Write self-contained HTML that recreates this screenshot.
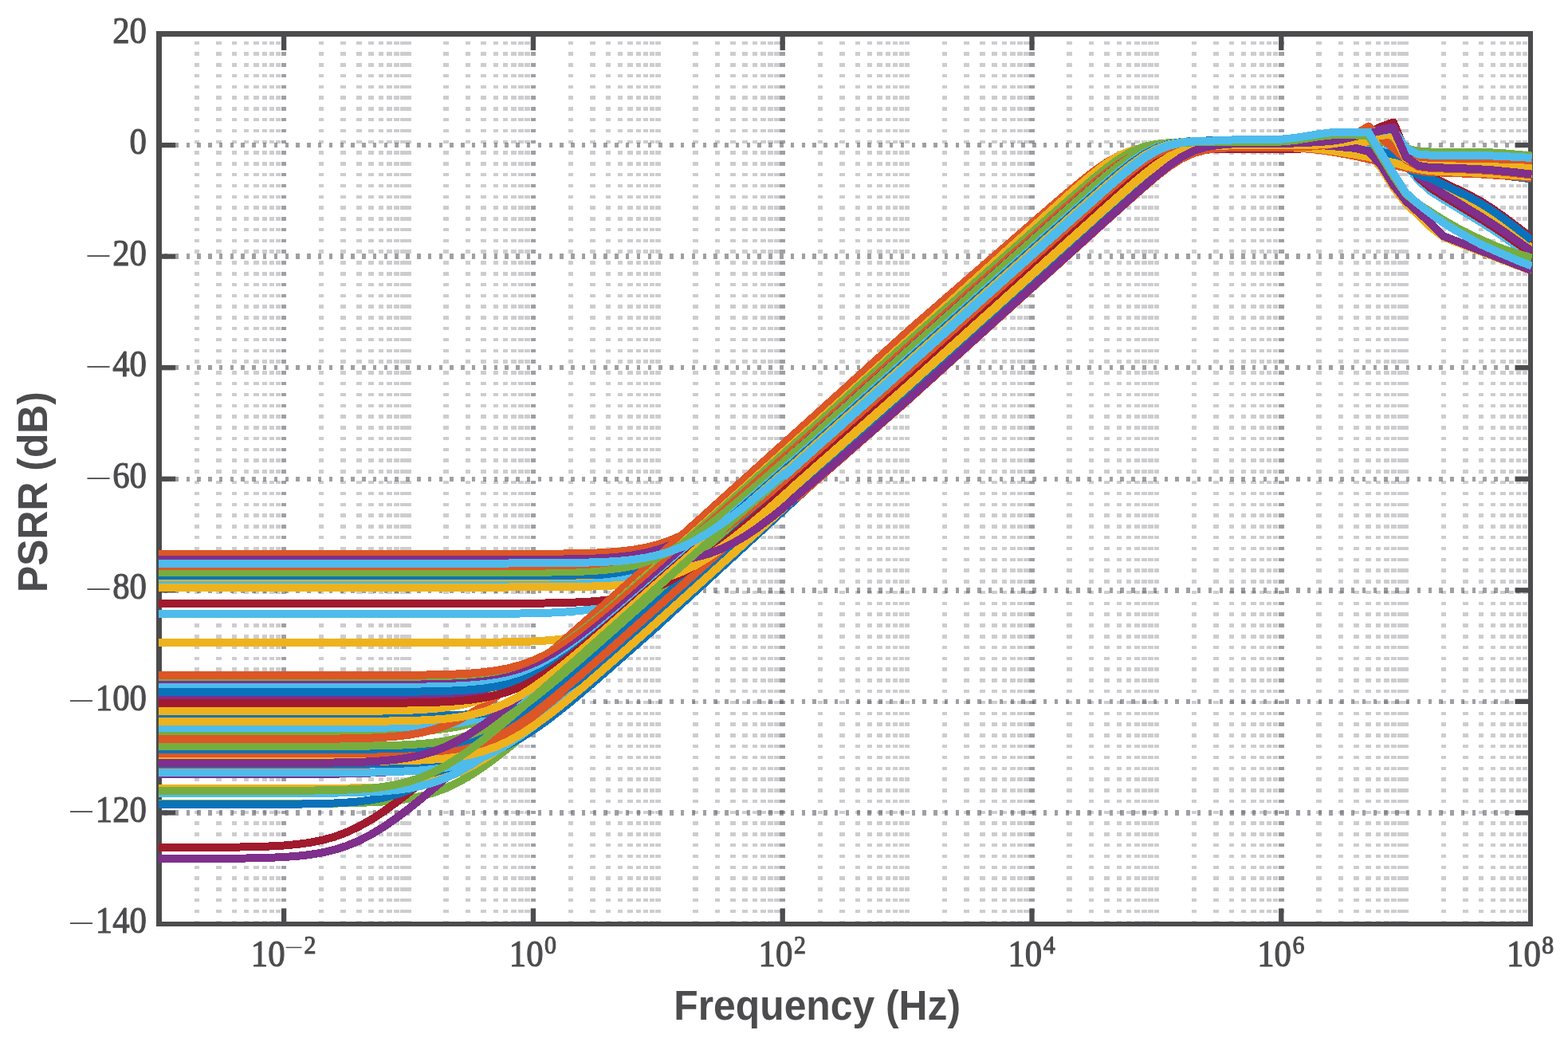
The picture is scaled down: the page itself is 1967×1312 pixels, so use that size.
<!DOCTYPE html>
<html lang="en"><head><meta charset="utf-8"><title>PSRR (dB) vs Frequency (Hz)</title>
<style>html,body{margin:0;padding:0;background:#fff;overflow:hidden}svg{display:block}text{white-space:pre}</style></head>
<body>
<svg width="1967" height="1312" viewBox="0 0 1967 1312">
<rect width="1967" height="1312" fill="#fff"/>
<defs><clipPath id="ax"><rect x="199" y="42.5" width="1723" height="1116.5"/></clipPath></defs>
<path d="M246.78 1159.0V42.5M274.32 1159.0V42.5M293.86 1159.0V42.5M309.02 1159.0V42.5M321.40 1159.0V42.5M331.87 1159.0V42.5M340.94 1159.0V42.5M348.94 1159.0V42.5M403.18 1159.0V42.5M430.72 1159.0V42.5M450.26 1159.0V42.5M465.42 1159.0V42.5M477.80 1159.0V42.5M488.27 1159.0V42.5M497.34 1159.0V42.5M505.34 1159.0V42.5M559.58 1159.0V42.5M587.12 1159.0V42.5M606.66 1159.0V42.5M621.82 1159.0V42.5M634.20 1159.0V42.5M644.67 1159.0V42.5M653.74 1159.0V42.5M661.74 1159.0V42.5M715.98 1159.0V42.5M743.52 1159.0V42.5M763.06 1159.0V42.5M778.22 1159.0V42.5M790.60 1159.0V42.5M801.07 1159.0V42.5M810.14 1159.0V42.5M818.14 1159.0V42.5M872.38 1159.0V42.5M899.92 1159.0V42.5M919.46 1159.0V42.5M934.62 1159.0V42.5M947.00 1159.0V42.5M957.47 1159.0V42.5M966.54 1159.0V42.5M974.54 1159.0V42.5M1028.78 1159.0V42.5M1056.32 1159.0V42.5M1075.86 1159.0V42.5M1091.02 1159.0V42.5M1103.40 1159.0V42.5M1113.87 1159.0V42.5M1122.94 1159.0V42.5M1130.94 1159.0V42.5M1185.18 1159.0V42.5M1212.72 1159.0V42.5M1232.26 1159.0V42.5M1247.42 1159.0V42.5M1259.80 1159.0V42.5M1270.27 1159.0V42.5M1279.34 1159.0V42.5M1287.34 1159.0V42.5M1341.58 1159.0V42.5M1369.12 1159.0V42.5M1388.66 1159.0V42.5M1403.82 1159.0V42.5M1416.20 1159.0V42.5M1426.67 1159.0V42.5M1435.74 1159.0V42.5M1443.74 1159.0V42.5M1497.98 1159.0V42.5M1525.52 1159.0V42.5M1545.06 1159.0V42.5M1560.22 1159.0V42.5M1572.60 1159.0V42.5M1583.07 1159.0V42.5M1592.14 1159.0V42.5M1600.14 1159.0V42.5M1654.38 1159.0V42.5M1681.92 1159.0V42.5M1701.46 1159.0V42.5M1716.62 1159.0V42.5M1729.00 1159.0V42.5M1739.47 1159.0V42.5M1748.54 1159.0V42.5M1756.54 1159.0V42.5M1810.78 1159.0V42.5M1838.32 1159.0V42.5M1857.86 1159.0V42.5M1873.02 1159.0V42.5M1885.40 1159.0V42.5M1895.87 1159.0V42.5M1904.94 1159.0V42.5M1912.94 1159.0V42.5M512.50 1159.0V42.5M825.30 1159.0V42.5M1138.10 1159.0V42.5M1450.90 1159.0V42.5M1763.70 1159.0V42.5" stroke="#4a4c54" stroke-opacity="0.28" stroke-width="6.5" shape-rendering="crispEdges" stroke-dasharray="4.45 9.338000000000001" fill="none"/>
<path d="M356.10 1159.0V42.5M668.90 1159.0V42.5M981.70 1159.0V42.5M1294.50 1159.0V42.5M1607.30 1159.0V42.5" stroke="#4a4c54" stroke-opacity="0.53" stroke-width="6.5" shape-rendering="crispEdges" stroke-dasharray="4.45 9.338000000000001" fill="none"/>
<path d="M1920.1 182.06H199.7M1920.1 321.62H199.7M1920.1 461.19H199.7M1920.1 600.75H199.7M1920.1 740.31H199.7M1920.1 879.88H199.7M1920.1 1019.44H199.7" stroke="#4a4c54" stroke-opacity="0.53" stroke-width="6.5" shape-rendering="crispEdges" stroke-dasharray="4.45 9.338000000000001" fill="none"/>
<g fill="#4c4c4e">
<rect x="196" y="39" width="7" height="1123"/>
<rect x="196" y="39" width="1727" height="7"/>
<rect x="1917" y="39" width="6" height="1123"/>
<rect x="196" y="1156" width="1727" height="6"/>
<rect x="202" y="178.91" width="18.1" height="6.3"/>
<rect x="1900.50" y="178.91" width="17.8" height="6.3"/>
<rect x="202" y="318.48" width="18.1" height="6.3"/>
<rect x="1900.50" y="318.48" width="17.8" height="6.3"/>
<rect x="202" y="458.04" width="18.1" height="6.3"/>
<rect x="1900.50" y="458.04" width="17.8" height="6.3"/>
<rect x="202" y="597.60" width="18.1" height="6.3"/>
<rect x="1900.50" y="597.60" width="17.8" height="6.3"/>
<rect x="202" y="737.16" width="18.1" height="6.3"/>
<rect x="1900.50" y="737.16" width="17.8" height="6.3"/>
<rect x="202" y="876.73" width="18.1" height="6.3"/>
<rect x="1900.50" y="876.73" width="17.8" height="6.3"/>
<rect x="202" y="1016.29" width="18.1" height="6.3"/>
<rect x="1900.50" y="1016.29" width="17.8" height="6.3"/>
<rect x="352.95" y="45" width="6.3" height="18.1"/>
<rect x="352.95" y="1139.40" width="6.3" height="17.8"/>
<rect x="665.75" y="45" width="6.3" height="18.1"/>
<rect x="665.75" y="1139.40" width="6.3" height="17.8"/>
<rect x="978.55" y="45" width="6.3" height="18.1"/>
<rect x="978.55" y="1139.40" width="6.3" height="17.8"/>
<rect x="1291.35" y="45" width="6.3" height="18.1"/>
<rect x="1291.35" y="1139.40" width="6.3" height="17.8"/>
<rect x="1604.15" y="45" width="6.3" height="18.1"/>
<rect x="1604.15" y="1139.40" width="6.3" height="17.8"/>
</g>
<g clip-path="url(#ax)" fill="none" stroke-width="10" stroke-linejoin="round" stroke-linecap="butt" shape-rendering="crispEdges">
<g>
<path d="M199.0,1008.0 215.3,1008.0 231.0,1008.0 246.6,1008.0 262.3,1008.0 277.9,1008.0 293.5,1008.0 309.2,1008.0 324.8,1008.0 340.5,1008.0 356.1,1007.9 371.7,1007.9 387.4,1007.8 403.0,1007.7 418.7,1007.6 434.3,1007.3 449.9,1006.9 465.6,1006.3 481.2,1005.4 496.9,1003.9 512.5,1001.8 528.1,998.7 543.8,994.3 559.4,988.5 575.1,981.1 590.7,972.1 606.3,961.8 622.0,950.3 637.6,938.1 653.3,925.3 668.9,912.1 684.5,898.6 700.2,884.9 715.8,871.2 731.5,857.3 747.1,843.5 762.7,829.5 778.4,815.6 794.0,801.7 809.7,787.7 825.3,773.8 840.9,759.6 856.6,745.4 872.2,731.2 887.9,716.9 903.5,702.7 919.1,688.5 934.8,674.3 950.4,660.1 966.1,645.9 981.7,631.6 997.3,617.4 1013.0,603.2 1028.6,589.0" stroke="#77ad3f"/>
<path d="M199.0,1063.0 215.3,1063.0 231.0,1062.9 246.6,1062.9 262.3,1062.8 277.9,1062.7 293.5,1062.6 309.2,1062.4 324.8,1062.0 340.5,1061.4 356.1,1060.5 371.7,1059.1 387.4,1057.1 403.0,1054.1 418.7,1049.9 434.3,1044.2 449.9,1036.9 465.6,1028.1 481.2,1017.9 496.9,1006.6 512.5,994.5 528.1,981.7 543.8,968.5 559.4,955.1 575.1,941.4 590.7,927.7 606.3,913.8 622.0,900.0 637.6,886.1 653.3,872.1 668.9,858.2 684.5,844.3 700.2,830.3 715.8,816.4 731.5,802.4 747.1,788.5 762.7,774.5 778.4,760.5 794.0,746.6 809.7,732.6 825.3,718.7 840.9,705.6 856.6,692.5 872.2,679.4 887.9,666.4 903.5,653.3 919.1,640.2 934.8,627.1 950.4,614.0 966.1,601.0 981.7,587.9 997.3,574.8 1013.0,561.7 1028.6,548.6" stroke="#a11a2e"/>
<path d="M199.0,1077.0 215.3,1077.0 231.0,1076.9 246.6,1076.9 262.3,1076.9 277.9,1076.8 293.5,1076.7 309.2,1076.5 324.8,1076.2 340.5,1075.7 356.1,1075.0 371.7,1073.9 387.4,1072.2 403.0,1069.7 418.7,1066.1 434.3,1061.2 449.9,1054.8 465.6,1046.7 481.2,1037.2 496.9,1026.4 512.5,1014.6 528.1,1002.1 543.8,989.1 559.4,975.8 575.1,962.2 590.7,948.5 606.3,934.7 622.0,920.9 637.6,907.0 653.3,893.1 668.9,879.1 684.5,865.2 700.2,851.2 715.8,837.3 731.5,823.3 747.1,809.4 762.7,795.4 778.4,781.5 794.0,767.5 809.7,753.6 825.3,739.6 840.9,725.6 856.6,711.7 872.2,697.7 887.9,683.7 903.5,669.8 919.1,655.8 934.8,641.8 950.4,627.9 966.1,613.9 981.7,600.0 997.3,586.0 1013.0,572.0 1028.6,558.1" stroke="#7f2f8c"/>
<path d="M199.0,1009.0 215.3,1009.0 231.0,1009.0 246.6,1009.0 262.3,1009.0 277.9,1009.0 293.5,1009.0 309.2,1008.9 324.8,1008.9 340.5,1008.8 356.1,1008.8 371.7,1008.6 387.4,1008.4 403.0,1008.0 418.7,1007.5 434.3,1006.7 449.9,1005.4 465.6,1003.4 481.2,1000.6 496.9,996.6 512.5,991.1 528.1,984.1 543.8,975.5 559.4,965.5 575.1,954.3 590.7,942.3 606.3,929.6 622.0,916.4 637.6,903.0 653.3,889.4 668.9,875.7 684.5,861.8 700.2,848.0 715.8,834.1 731.5,820.2 747.1,806.2 762.7,792.3 778.4,778.3 794.0,764.4 809.7,750.4 825.3,736.5 840.9,722.8 856.6,709.1 872.2,695.5 887.9,681.8 903.5,668.1 919.1,654.4 934.8,640.8 950.4,627.1 966.1,613.4 981.7,599.7 997.3,586.1 1013.0,572.4 1028.6,558.7" stroke="#0a72ba"/>
<path d="M199.0,875.0 215.3,875.0 231.0,875.0 246.6,875.0 262.3,875.0 277.9,875.0 293.5,875.0 309.2,875.0 324.8,875.0 340.5,875.0 356.1,875.0 371.7,875.0 387.4,875.0 403.0,875.0 418.7,875.0 434.3,875.0 449.9,874.9 465.6,874.9 481.2,874.9 496.9,874.8 512.5,874.7 528.1,874.5 543.8,874.2 559.4,873.7 575.1,873.0 590.7,871.9 606.3,870.2 622.0,867.8 637.6,864.2 653.3,859.3 668.9,852.9 684.5,844.9 700.2,835.4 715.8,824.6 731.5,812.9 747.1,800.4 762.7,787.4 778.4,774.1 794.0,760.5 809.7,746.8 825.3,733.1 840.9,719.5 856.6,705.9 872.2,692.3 887.9,678.7 903.5,665.1 919.1,651.5 934.8,637.9 950.4,624.2 966.1,610.6 981.7,596.9 997.3,583.3 1013.0,569.7 1028.6,556.0" stroke="#7f2f8c"/>
<path d="M199.0,919.0 215.3,919.0 231.0,919.0 246.6,919.0 262.3,919.0 277.9,919.0 293.5,919.0 309.2,919.0 324.8,919.0 340.5,919.0 356.1,919.0 371.7,919.0 387.4,919.0 403.0,918.9 418.7,918.9 434.3,918.9 449.9,918.8 465.6,918.7 481.2,918.5 496.9,918.1 512.5,917.6 528.1,916.9 543.8,915.7 559.4,913.9 575.1,911.3 590.7,907.6 606.3,902.5 622.0,895.8 637.6,887.6 653.3,877.8 668.9,866.9 684.5,855.0 700.2,842.5 715.8,829.4 731.5,816.0 747.1,802.5 762.7,788.7 778.4,774.9 794.0,761.1 809.7,747.2 825.3,733.3 840.9,719.7 856.6,706.0 872.2,692.4 887.9,678.8 903.5,665.1 919.1,651.5 934.8,637.9 950.4,624.2 966.1,610.6 981.7,596.9 997.3,583.3 1013.0,569.7 1028.6,556.0" stroke="#77ad3f"/>
<path d="M199.0,913.0 215.3,913.0 231.0,913.0 246.6,913.0 262.3,913.0 277.9,913.0 293.5,913.0 309.2,913.0 324.8,913.0 340.5,913.0 356.1,913.0 371.7,913.0 387.4,913.0 403.0,913.0 418.7,912.9 434.3,912.9 449.9,912.8 465.6,912.7 481.2,912.6 496.9,912.3 512.5,912.0 528.1,911.4 543.8,910.4 559.4,909.0 575.1,906.9 590.7,903.9 606.3,899.6 622.0,893.9 637.6,886.5 653.3,877.6 668.9,867.4 684.5,856.0 700.2,843.8 715.8,831.0 731.5,817.8 747.1,804.4 762.7,790.7 778.4,777.0 794.0,763.1 809.7,749.2 825.3,735.3 840.9,721.5 856.6,707.7 872.2,693.9 887.9,680.0 903.5,666.2 919.1,652.3 934.8,638.5 950.4,624.6 966.1,610.8 981.7,596.9 997.3,583.1 1013.0,569.2 1028.6,555.4" stroke="#4dbcec"/>
<path d="M199.0,971.0 215.3,971.0 231.0,971.0 246.6,971.0 262.3,971.0 277.9,971.0 293.5,971.0 309.2,971.0 324.8,971.0 340.5,971.0 356.1,970.9 371.7,970.9 387.4,970.8 403.0,970.8 418.7,970.6 434.3,970.4 449.9,970.0 465.6,969.5 481.2,968.7 496.9,967.4 512.5,965.4 528.1,962.6 543.8,958.6 559.4,953.1 575.1,946.1 590.7,937.5 606.3,927.5 622.0,916.3 637.6,904.2 653.3,891.5 668.9,878.4 684.5,865.0 700.2,851.4 715.8,837.6 731.5,823.8 747.1,809.9 762.7,796.0 778.4,782.1 794.0,768.2 809.7,754.2 825.3,740.3 840.9,726.3 856.6,712.4 872.2,698.4 887.9,684.4 903.5,670.5 919.1,656.5 934.8,642.5 950.4,628.6 966.1,614.6 981.7,600.6 997.3,586.7 1013.0,572.7 1028.6,558.7" stroke="#7f2f8c"/>
<path d="M199.0,989.0 215.3,989.0 231.0,989.0 246.6,989.0 262.3,989.0 277.9,989.0 293.5,989.0 309.2,989.0 324.8,989.0 340.5,989.0 356.1,989.0 371.7,988.9 387.4,988.9 403.0,988.8 418.7,988.7 434.3,988.6 449.9,988.3 465.6,987.9 481.2,987.3 496.9,986.3 512.5,984.9 528.1,982.7 543.8,979.5 559.4,975.1 575.1,969.2 590.7,961.7 606.3,952.7 622.0,942.3 637.6,930.9 653.3,918.6 668.9,905.8 684.5,892.5 700.2,879.1 715.8,865.4 731.5,851.6 747.1,837.8 762.7,823.9 778.4,810.0 794.0,796.1 809.7,782.1 825.3,768.2 840.9,753.9 856.6,739.6 872.2,725.3 887.9,711.0 903.5,696.7 919.1,682.4 934.8,668.1 950.4,653.8 966.1,639.5 981.7,625.2 997.3,610.9 1013.0,596.6 1028.6,582.3" stroke="#eeb21c"/>
<path d="M199.0,995.0 215.3,995.0 231.0,995.0 246.6,995.0 262.3,995.0 277.9,995.0 293.5,995.0 309.2,995.0 324.8,995.0 340.5,995.0 356.1,994.9 371.7,994.9 387.4,994.8 403.0,994.7 418.7,994.6 434.3,994.3 449.9,993.9 465.6,993.3 481.2,992.4 496.9,991.0 512.5,988.9 528.1,985.8 543.8,981.5 559.4,975.7 575.1,968.3 590.7,959.4 606.3,949.1 622.0,937.7 637.6,925.5 653.3,912.7 668.9,899.5 684.5,886.0 700.2,872.4 715.8,858.6 731.5,844.8 747.1,830.9 762.7,817.0 778.4,803.1 794.0,789.1 809.7,775.2 825.3,761.2 840.9,745.6 856.6,729.9 872.2,714.2 887.9,698.5 903.5,682.8 919.1,667.2 934.8,651.5 950.4,635.8 966.1,620.1 981.7,604.4 997.3,588.7 1013.0,573.1 1028.6,557.4" stroke="#4dbcec"/>
<path d="M199.0,959.0 215.3,959.0 231.0,959.0 246.6,959.0 262.3,959.0 277.9,959.0 293.5,959.0 309.2,959.0 324.8,959.0 340.5,959.0 356.1,959.0 371.7,959.0 387.4,959.0 403.0,958.9 418.7,958.9 434.3,958.8 449.9,958.7 465.6,958.5 481.2,958.2 496.9,957.8 512.5,957.1 528.1,956.1 543.8,954.5 559.4,952.2 575.1,948.8 590.7,944.1 606.3,937.9 622.0,930.1 637.6,920.7 653.3,910.1 668.9,898.5 684.5,886.1 700.2,873.2 715.8,859.9 731.5,846.3 747.1,832.6 762.7,818.9 778.4,805.0 794.0,791.1 809.7,777.2 825.3,763.3 840.9,750.7 856.6,738.0 872.2,725.4 887.9,712.7 903.5,700.1 919.1,687.4 934.8,674.8 950.4,662.1 966.1,649.5 981.7,636.8 997.3,624.2 1013.0,611.5 1028.6,598.9" stroke="#dc5626"/>
<path d="M199.0,958.3 215.3,958.3 231.0,958.3 246.6,958.3 262.3,958.3 277.9,958.3 293.5,958.3 309.2,958.3 324.8,958.3 340.5,958.3 356.1,958.3 371.7,958.3 387.4,958.3 403.0,958.3 418.7,958.2 434.3,958.2 449.9,958.2 465.6,958.1 481.2,957.9 496.9,957.7 512.5,957.4 528.1,956.9 543.8,956.1 559.4,954.8 575.1,953.0 590.7,950.2 606.3,946.4 622.0,941.1 637.6,934.2 653.3,925.8 668.9,915.9 684.5,904.9 700.2,892.9 715.8,880.3 731.5,867.2 747.1,853.8 762.7,840.2 778.4,826.4 794.0,812.6 809.7,798.8 825.3,784.9 840.9,770.6 856.6,756.2 872.2,741.9 887.9,727.6 903.5,713.2 919.1,698.9 934.8,684.5 950.4,670.2 966.1,655.8 981.7,641.5 997.3,627.1 1013.0,612.8 1028.6,598.4" stroke="#0a72ba"/>
<path d="M199.0,969.0 215.3,969.0 231.0,969.0 246.6,969.0 262.3,969.0 277.9,969.0 293.5,969.0 309.2,969.0 324.8,969.0 340.5,969.0 356.1,969.0 371.7,969.0 387.4,969.0 403.0,968.9 418.7,968.9 434.3,968.8 449.9,968.7 465.6,968.6 481.2,968.3 496.9,967.9 512.5,967.3 528.1,966.4 543.8,964.9 559.4,962.8 575.1,959.7 590.7,955.3 606.3,949.5 622.0,942.0 637.6,933.0 653.3,922.7 668.9,911.3 684.5,899.0 700.2,886.2 715.8,873.0 731.5,859.5 747.1,845.9 762.7,832.1 778.4,818.3 794.0,804.4 809.7,790.5 825.3,776.5 840.9,762.6 856.6,748.6 872.2,734.7 887.9,720.7 903.5,706.8 919.1,692.8 934.8,678.8 950.4,664.9 966.1,650.9 981.7,636.9 997.3,623.0 1013.0,609.0 1028.6,595.0" stroke="#4dbcec"/>
<path d="M199.0,806.0 215.3,806.0 231.0,806.0 246.6,806.0 262.3,806.0 277.9,806.0 293.5,806.0 309.2,806.0 324.8,806.0 340.5,806.0 356.1,806.0 371.7,806.0 387.4,806.0 403.0,806.0 418.7,806.0 434.3,806.0 449.9,806.0 465.6,806.0 481.2,806.0 496.9,806.0 512.5,806.0 528.1,806.0 543.8,806.0 559.4,805.9 575.1,805.9 590.7,805.8 606.3,805.7 622.0,805.6 637.6,805.4 653.3,805.0 668.9,804.4 684.5,803.5 700.2,802.2 715.8,800.1 731.5,797.1 747.1,792.9 762.7,787.3 778.4,780.1 794.0,771.3 809.7,761.1 825.3,749.8 840.9,738.0 856.6,725.7 872.2,712.9 887.9,699.9 903.5,686.7 919.1,673.3 934.8,659.9 950.4,646.5 966.1,633.0 981.7,619.5 997.3,605.9 1013.0,592.4 1028.6,578.9" stroke="#eeb21c"/>
<path d="M199.0,770.0 215.3,770.0 231.0,770.0 246.6,770.0 262.3,770.0 277.9,770.0 293.5,770.0 309.2,770.0 324.8,770.0 340.5,770.0 356.1,770.0 371.7,770.0 387.4,770.0 403.0,770.0 418.7,770.0 434.3,770.0 449.9,770.0 465.6,770.0 481.2,770.0 496.9,770.0 512.5,770.0 528.1,770.0 543.8,770.0 559.4,770.0 575.1,770.0 590.7,769.9 606.3,769.9 622.0,769.8 637.6,769.7 653.3,769.5 668.9,769.3 684.5,768.8 700.2,768.2 715.8,767.1 731.5,765.6 747.1,763.3 762.7,759.9 778.4,755.3 794.0,749.2 809.7,741.4 825.3,732.2 840.9,721.4 856.6,709.5 872.2,696.9 887.9,683.7 903.5,670.2 919.1,656.4 934.8,642.5 950.4,628.4 966.1,614.3 981.7,600.2 997.3,586.0 1013.0,571.8 1028.6,557.6" stroke="#4dbcec"/>
<path d="M199.0,898.0 215.3,898.0 231.0,898.0 246.6,898.0 262.3,898.0 277.9,898.0 293.5,898.0 309.2,898.0 324.8,898.0 340.5,898.0 356.1,898.0 371.7,898.0 387.4,898.0 403.0,898.0 418.7,898.0 434.3,898.0 449.9,898.0 465.6,898.0 481.2,897.9 496.9,897.9 512.5,897.8 528.1,897.7 543.8,897.5 559.4,897.3 575.1,896.8 590.7,896.2 606.3,895.2 622.0,893.6 637.6,891.4 653.3,888.0 668.9,883.5 684.5,877.3 700.2,869.7 715.8,860.4 731.5,849.9 747.1,838.3 762.7,826.0 778.4,813.1 794.0,799.8 809.7,786.3 825.3,772.6 840.9,758.7 856.6,744.8 872.2,730.8 887.9,716.8 903.5,702.8 919.1,688.7 934.8,674.7 950.4,660.6 966.1,646.6 981.7,632.5 997.3,618.5 1013.0,604.4 1028.6,590.3" stroke="#0a72ba"/>
<path d="M199.0,943.0 215.3,943.0 231.0,943.0 246.6,943.0 262.3,943.0 277.9,943.0 293.5,943.0 309.2,943.0 324.8,943.0 340.5,943.0 356.1,943.0 371.7,943.0 387.4,943.0 403.0,942.9 418.7,942.9 434.3,942.8 449.9,942.7 465.6,942.5 481.2,942.3 496.9,941.8 512.5,941.2 528.1,940.1 543.8,938.6 559.4,936.3 575.1,933.0 590.7,928.3 606.3,922.2 622.0,914.4 637.6,905.2 653.3,894.6 668.9,883.0 684.5,870.7 700.2,857.8 715.8,844.5 731.5,831.0 747.1,817.3 762.7,803.5 778.4,789.7 794.0,775.8 809.7,761.9 825.3,747.9 840.9,734.2 856.6,720.4 872.2,706.6 887.9,692.8 903.5,679.1 919.1,665.3 934.8,651.5 950.4,637.7 966.1,623.9 981.7,610.2 997.3,596.4 1013.0,582.6 1028.6,568.8" stroke="#0a72ba"/>
<path d="M199.0,936.0 215.3,936.0 231.0,936.0 246.6,936.0 262.3,936.0 277.9,936.0 293.5,936.0 309.2,936.0 324.8,936.0 340.5,936.0 356.1,936.0 371.7,936.0 387.4,936.0 403.0,935.9 418.7,935.9 434.3,935.8 449.9,935.7 465.6,935.5 481.2,935.3 496.9,934.8 512.5,934.2 528.1,933.1 543.8,931.6 559.4,929.3 575.1,926.0 590.7,921.3 606.3,915.2 622.0,907.5 637.6,898.2 653.3,887.7 668.9,876.1 684.5,863.7 700.2,850.8 715.8,837.5 731.5,824.0 747.1,810.3 762.7,796.5 778.4,782.7 794.0,768.8 809.7,754.9 825.3,741.0 840.9,727.0 856.6,712.9 872.2,698.9 887.9,684.9 903.5,670.9 919.1,656.9 934.8,642.9 950.4,628.8 966.1,614.8 981.7,600.8 997.3,586.8 1013.0,572.7 1028.6,558.7" stroke="#77ad3f"/>
<path d="M199.0,950.0 215.3,950.0 231.0,950.0 246.6,950.0 262.3,950.0 277.9,950.0 293.5,950.0 309.2,950.0 324.8,950.0 340.5,950.0 356.1,950.0 371.7,950.0 387.4,950.0 403.0,949.9 418.7,949.9 434.3,949.8 449.9,949.8 465.6,949.6 481.2,949.4 496.9,949.0 512.5,948.5 528.1,947.7 543.8,946.4 559.4,944.4 575.1,941.6 590.7,937.6 606.3,932.1 622.0,925.1 637.6,916.5 653.3,906.5 668.9,895.4 684.5,883.3 700.2,870.6 715.8,857.5 731.5,844.1 747.1,830.4 762.7,816.7 778.4,802.9 794.0,789.0 809.7,775.1 825.3,761.2 840.9,747.3 856.6,733.4 872.2,719.5 887.9,705.5 903.5,691.6 919.1,677.7 934.8,663.8 950.4,649.9 966.1,635.9 981.7,622.0 997.3,608.1 1013.0,594.2 1028.6,580.2" stroke="#dc5626"/>
<path d="M199.0,955.0 215.3,955.0 231.0,955.0 246.6,955.0 262.3,955.0 277.9,955.0 293.5,955.0 309.2,955.0 324.8,955.0 340.5,955.0 356.1,955.0 371.7,955.0 387.4,955.0 403.0,955.0 418.7,954.9 434.3,954.9 449.9,954.8 465.6,954.8 481.2,954.6 496.9,954.4 512.5,954.0 528.1,953.5 543.8,952.6 559.4,951.3 575.1,949.3 590.7,946.4 606.3,942.3 622.0,936.8 637.6,929.7 653.3,921.0 668.9,910.9 684.5,899.7 700.2,887.6 715.8,874.9 731.5,861.7 747.1,848.3 762.7,834.6 778.4,820.9 794.0,807.1 809.7,793.2 825.3,779.3 840.9,765.3 856.6,751.2 872.2,737.1 887.9,723.1 903.5,709.0 919.1,694.9 934.8,680.8 950.4,666.8 966.1,652.7 981.7,638.6 997.3,624.5 1013.0,610.5 1028.6,596.4" stroke="#eeb21c"/>
<path d="M199.0,695.0 215.3,695.0 231.0,695.0 246.6,695.0 262.3,695.0 277.9,695.0 293.5,695.0 309.2,695.0 324.8,695.0 340.5,695.0 356.1,695.0 371.7,695.0 387.4,695.0 403.0,695.0 418.7,695.0 434.3,695.0 449.9,695.0 465.6,695.0 481.2,695.0 496.9,695.0 512.5,695.0 528.1,695.0 543.8,695.0 559.4,695.0 575.1,695.0 590.7,695.0 606.3,695.0 622.0,695.0 637.6,694.9 653.3,694.9 668.9,694.9 684.5,694.8 700.2,694.6 715.8,694.4 731.5,694.1 747.1,693.6 762.7,692.8 778.4,691.6 794.0,689.7 809.7,687.0 825.3,683.1 840.9,677.8 856.6,670.9 872.2,662.4 887.9,652.5 903.5,641.3 919.1,629.2 934.8,616.5 950.4,603.3 966.1,589.7 981.7,576.0 997.3,562.2 1013.0,548.3 1028.6,534.3" stroke="#dc5626"/>
<path d="M199.0,702.0 215.3,702.0 231.0,702.0 246.6,702.0 262.3,702.0 277.9,702.0 293.5,702.0 309.2,702.0 324.8,702.0 340.5,702.0 356.1,702.0 371.7,702.0 387.4,702.0 403.0,702.0 418.7,702.0 434.3,702.0 449.9,702.0 465.6,702.0 481.2,702.0 496.9,702.0 512.5,702.0 528.1,702.0 543.8,702.0 559.4,702.0 575.1,702.0 590.7,702.0 606.3,702.0 622.0,702.0 637.6,701.9 653.3,701.9 668.9,701.8 684.5,701.8 700.2,701.6 715.8,701.4 731.5,701.0 747.1,700.5 762.7,699.6 778.4,698.3 794.0,696.4 809.7,693.5 825.3,689.4 840.9,683.9 856.6,676.7 872.2,667.9 887.9,657.7 903.5,646.2 919.1,634.0 934.8,621.0 950.4,607.7 966.1,594.1 981.7,580.3 997.3,566.3 1013.0,552.3 1028.6,538.3" stroke="#7f2f8c"/>
<path d="M199.0,710.0 215.3,710.0 231.0,710.0 246.6,710.0 262.3,710.0 277.9,710.0 293.5,710.0 309.2,710.0 324.8,710.0 340.5,710.0 356.1,710.0 371.7,710.0 387.4,710.0 403.0,710.0 418.7,710.0 434.3,710.0 449.9,710.0 465.6,710.0 481.2,710.0 496.9,710.0 512.5,710.0 528.1,710.0 543.8,710.0 559.4,710.0 575.1,710.0 590.7,710.0 606.3,710.0 622.0,710.0 637.6,710.0 653.3,709.9 668.9,709.9 684.5,709.9 700.2,709.8 715.8,709.6 731.5,709.4 747.1,709.1 762.7,708.5 778.4,707.7 794.0,706.4 809.7,704.5 825.3,701.7 840.9,697.8 856.6,692.4 872.2,685.4 887.9,676.9 903.5,666.9 919.1,655.8 934.8,643.7 950.4,631.0 966.1,617.9 981.7,604.4 997.3,590.8 1013.0,577.0 1028.6,563.2" stroke="#dc5626"/>
<path d="M199.0,757.0 215.3,757.0 231.0,757.0 246.6,757.0 262.3,757.0 277.9,757.0 293.5,757.0 309.2,757.0 324.8,757.0 340.5,757.0 356.1,757.0 371.7,757.0 387.4,757.0 403.0,757.0 418.7,757.0 434.3,757.0 449.9,757.0 465.6,757.0 481.2,757.0 496.9,757.0 512.5,757.0 528.1,757.0 543.8,757.0 559.4,757.0 575.1,757.0 590.7,757.0 606.3,757.0 622.0,756.9 637.6,756.9 653.3,756.8 668.9,756.7 684.5,756.5 700.2,756.2 715.8,755.8 731.5,755.1 747.1,754.1 762.7,752.5 778.4,750.2 794.0,746.9 809.7,742.2 825.3,736.0 840.9,728.3 856.6,719.0 872.2,708.5 887.9,696.9 903.5,684.6 919.1,671.7 934.8,658.5 950.4,645.0 966.1,631.4 981.7,617.6 997.3,603.8 1013.0,590.0 1028.6,576.1" stroke="#a11a2e"/>
<path d="M199.0,720.0 215.3,720.0 231.0,720.0 246.6,720.0 262.3,720.0 277.9,720.0 293.5,720.0 309.2,720.0 324.8,720.0 340.5,720.0 356.1,720.0 371.7,720.0 387.4,720.0 403.0,720.0 418.7,720.0 434.3,720.0 449.9,720.0 465.6,720.0 481.2,720.0 496.9,720.0 512.5,720.0 528.1,720.0 543.8,720.0 559.4,720.0 575.1,720.0 590.7,720.0 606.3,720.0 622.0,719.9 637.6,719.9 653.3,719.8 668.9,719.7 684.5,719.5 700.2,719.3 715.8,718.8 731.5,718.2 747.1,717.1 762.7,715.6 778.4,713.2 794.0,709.9 809.7,705.2" stroke="#77ad3f"/>
<path d="M199.0,728.0 215.3,728.0 231.0,728.0 246.6,728.0 262.3,728.0 277.9,728.0 293.5,728.0 309.2,728.0 324.8,728.0 340.5,728.0 356.1,728.0 371.7,728.0 387.4,728.0 403.0,728.0 418.7,728.0 434.3,728.0 449.9,728.0 465.6,728.0 481.2,728.0 496.9,728.0 512.5,728.0 528.1,728.0 543.8,728.0 559.4,728.0 575.1,728.0 590.7,728.0 606.3,728.0 622.0,727.9 637.6,727.9 653.3,727.9 668.9,727.8 684.5,727.6 700.2,727.4 715.8,727.1 731.5,726.6 747.1,725.8 762.7,724.5 778.4,722.7 794.0,719.9 809.7,716.1 825.3,710.8 840.9,704.0 856.6,695.6 872.2,685.8 887.9,674.8 903.5,662.8 919.1,650.3 934.8,637.2 950.4,623.9 966.1,610.3 981.7,596.7 997.3,582.9 1013.0,569.1 1028.6,555.3" stroke="#0a72ba"/>
<path d="M199.0,732.0 215.3,732.0 231.0,732.0 246.6,732.0 262.3,732.0 277.9,732.0 293.5,732.0 309.2,732.0 324.8,732.0 340.5,732.0 356.1,732.0 371.7,732.0 387.4,732.0 403.0,732.0 418.7,732.0 434.3,732.0 449.9,732.0 465.6,732.0 481.2,732.0 496.9,732.0 512.5,732.0 528.1,732.0 543.8,732.0 559.4,732.0 575.1,732.0 590.7,732.0 606.3,732.0 622.0,732.0 637.6,732.0 653.3,731.9 668.9,731.9 684.5,731.8 700.2,731.8 715.8,731.6 731.5,731.4 747.1,731.0 762.7,730.5 778.4,729.6 794.0,728.3 809.7,726.4 825.3,723.5 840.9,719.3 856.6,713.7 872.2,706.4 887.9,697.5 903.5,687.1 919.1,675.5 934.8,663.1 950.4,650.1 966.1,636.6 981.7,622.8 997.3,608.9 1013.0,594.8 1028.6,580.7" stroke="#eeb21c"/>
<path d="M199.0,734.0 215.3,734.0 231.0,734.0 246.6,734.0 262.3,734.0 277.9,734.0 293.5,734.0 309.2,734.0 324.8,734.0 340.5,734.0 356.1,734.0 371.7,734.0 387.4,734.0 403.0,734.0 418.7,734.0 434.3,734.0 449.9,734.0 465.6,734.0 481.2,734.0 496.9,734.0 512.5,734.0 528.1,734.0 543.8,734.0 559.4,734.0 575.1,734.0 590.7,734.0 606.3,734.0 622.0,733.9 637.6,733.9 653.3,733.8 668.9,733.7 684.5,733.6 700.2,733.3 715.8,732.9 731.5,732.3 747.1,731.4 762.7,730.0 778.4,727.9 794.0,724.8 809.7,720.5 825.3,714.7 840.9,707.4 856.6,698.5 872.2,688.2 887.9,676.9 903.5,664.7 919.1,652.0 934.8,638.8 950.4,625.4 966.1,611.8 981.7,598.1 997.3,584.3 1013.0,570.5 1028.6,556.6" stroke="#4dbcec"/>
<path d="M199.0,736.5 215.3,736.5 231.0,736.5 246.6,736.5 262.3,736.5 277.9,736.5 293.5,736.5 309.2,736.5 324.8,736.5 340.5,736.5 356.1,736.5 371.7,736.5 387.4,736.5 403.0,736.5 418.7,736.5 434.3,736.5 449.9,736.5 465.6,736.5 481.2,736.5 496.9,736.5 512.5,736.5 528.1,736.5 543.8,736.5 559.4,736.5 575.1,736.5 590.7,736.5 606.3,736.5 622.0,736.5 637.6,736.5 653.3,736.4 668.9,736.4 684.5,736.3 700.2,736.2 715.8,736.1 731.5,735.8 747.1,735.4 762.7,734.8 778.4,733.9 794.0,732.4 809.7,730.3 825.3,727.2 840.9,722.7 856.6,716.7 872.2,709.1 887.9,699.9 903.5,689.2 919.1,677.5 934.8,664.9 950.4,651.8 966.1,638.2 981.7,624.5 997.3,610.5 1013.0,596.5 1028.6,582.3" stroke="#eeb21c"/>
<path d="M809.7,706.5 825.3,705.6 840.9,704.2 856.6,702.2 872.2,699.2 887.9,694.9 903.5,689.1 919.1,681.6 934.8,672.5 950.4,662.0 966.1,650.3 981.7,637.8 997.3,624.7 1013.0,611.2 1028.6,597.4" stroke="#7f2f8c"/>
<path d="M199.0,927.0 215.3,927.0 231.0,927.0 246.6,927.0 262.3,927.0 277.9,927.0 293.5,927.0 309.2,927.0 324.8,927.0 340.5,927.0 356.1,926.9 371.7,926.9 387.4,926.9 403.0,926.8 418.7,926.6 434.3,926.4 449.9,926.1 465.6,925.6 481.2,924.8 496.9,923.6 512.5,921.8 528.1,919.1 543.8,915.3 559.4,910.0 575.1,903.3 590.7,894.9 606.3,885.1 622.0,874.1 637.6,862.1 653.3,849.5 668.9,836.4 684.5,823.1 700.2,809.5 715.8,795.7 731.5,781.9 747.1,768.1 762.7,754.2 778.4,740.2 794.0,726.3 809.7,712.4 825.3,698.4 840.9,684.4 856.6,670.3 872.2,656.2 887.9,642.1 903.5,628.0 919.1,614.0 934.8,599.9 950.4,585.8 966.1,571.7 981.7,557.6 997.3,543.6 1013.0,529.5 1028.6,515.4" stroke="#dc5626"/>
<path d="M199.0,892.0 215.3,892.0 231.0,892.0 246.6,892.0 262.3,892.0 277.9,892.0 293.5,892.0 309.2,892.0 324.8,892.0 340.5,892.0 356.1,892.0 371.7,892.0 387.4,892.0 403.0,891.9 418.7,891.9 434.3,891.9 449.9,891.8 465.6,891.7 481.2,891.5 496.9,891.2 512.5,890.8 528.1,890.0 543.8,889.0 559.4,887.3 575.1,884.9 590.7,881.4 606.3,876.5 622.0,870.2 637.6,862.2 653.3,852.7 668.9,842.0 684.5,830.3 700.2,817.8 715.8,804.8 731.5,791.5 747.1,778.0 762.7,764.3 778.4,750.5 794.0,736.6 809.7,722.8 825.3,708.8 840.9,694.8 856.6,680.7 872.2,666.7 887.9,652.6 903.5,638.5 919.1,624.4 934.8,610.4 950.4,596.3 966.1,582.2 981.7,568.1 997.3,554.1 1013.0,540.0 1028.6,525.9" stroke="#eeb21c"/>
<path d="M199.0,851.0 215.3,851.0 231.0,851.0 246.6,851.0 262.3,851.0 277.9,851.0 293.5,851.0 309.2,851.0 324.8,851.0 340.5,851.0 356.1,851.0 371.7,851.0 387.4,851.0 403.0,851.0 418.7,851.0 434.3,851.0 449.9,850.9 465.6,850.9 481.2,850.9 496.9,850.8 512.5,850.7 528.1,850.5 543.8,850.2 559.4,849.8 575.1,849.1 590.7,848.0 606.3,846.3 622.0,843.9 637.6,840.4 653.3,835.6 668.9,829.3 684.5,821.3 700.2,811.9 715.8,801.2 731.5,789.5 747.1,777.0 762.7,764.1 778.4,750.8 794.0,737.2 809.7,723.5 825.3,709.7 840.9,695.9 856.6,682.0 872.2,668.1 887.9,654.2 903.5,640.2 919.1,626.3 934.8,612.3 950.4,598.4 966.1,584.4 981.7,570.5 997.3,556.5 1013.0,542.5 1028.6,528.6" stroke="#77ad3f"/>
<path d="M199.0,847.0 215.3,847.0 231.0,847.0 246.6,847.0 262.3,847.0 277.9,847.0 293.5,847.0 309.2,847.0 324.8,847.0 340.5,847.0 356.1,847.0 371.7,847.0 387.4,847.0 403.0,847.0 418.7,847.0 434.3,847.0 449.9,847.0 465.6,846.9 481.2,846.9 496.9,846.8 512.5,846.7 528.1,846.6 543.8,846.4 559.4,846.0 575.1,845.4 590.7,844.6 606.3,843.2 622.0,841.2 637.6,838.2 653.3,834.1 668.9,828.5 684.5,821.3 700.2,812.6 715.8,802.5 731.5,791.2 747.1,779.1 762.7,766.3 778.4,753.1 794.0,739.7 809.7,726.1 825.3,712.3 840.9,698.7 856.6,685.1 872.2,671.5 887.9,657.8 903.5,644.1 919.1,630.4 934.8,616.7 950.4,603.0 966.1,589.3 981.7,575.6 997.3,561.9 1013.0,548.2 1028.6,534.4" stroke="#dc5626"/>
<path d="M199.0,859.0 215.3,859.0 231.0,859.0 246.6,859.0 262.3,859.0 277.9,859.0 293.5,859.0 309.2,859.0 324.8,859.0 340.5,859.0 356.1,859.0 371.7,859.0 387.4,859.0 403.0,859.0 418.7,859.0 434.3,859.0 449.9,859.0 465.6,858.9 481.2,858.9 496.9,858.8 512.5,858.7 528.1,858.5 543.8,858.3 559.4,857.8 575.1,857.2 590.7,856.2 606.3,854.6 622.0,852.4 637.6,849.1 653.3,844.5 668.9,838.4 684.5,830.7 700.2,821.5 715.8,811.0 731.5,799.4 747.1,787.0 762.7,774.1 778.4,760.9 794.0,747.4 809.7,733.7 825.3,719.9 840.9,706.0 856.6,692.1 872.2,678.2 887.9,664.2 903.5,650.3 919.1,636.3 934.8,622.3 950.4,608.3 966.1,594.3 981.7,580.4 997.3,566.4 1013.0,552.4 1028.6,538.4" stroke="#7f2f8c"/>
<path d="M199.0,957.0 215.3,957.0 231.0,957.0 246.6,957.0 262.3,957.0 277.9,957.0 293.5,957.0 309.2,957.0 324.8,957.0 340.5,957.0 356.1,956.9 371.7,956.9 387.4,956.8 403.0,956.7 418.7,956.5 434.3,956.3 449.9,955.9 465.6,955.2 481.2,954.2 496.9,952.7 512.5,950.4 528.1,947.1 543.8,942.6 559.4,936.5 575.1,928.8 590.7,919.7 606.3,909.2 622.0,897.6 637.6,885.3 653.3,872.4 668.9,859.1 684.5,845.6 700.2,831.9 715.8,818.2 731.5,804.3 747.1,790.4 762.7,776.5 778.4,762.6 794.0,748.7 809.7,734.7 825.3,720.8 840.9,707.0 856.6,693.3 872.2,679.5 887.9,665.7 903.5,652.0 919.1,638.2 934.8,624.5 950.4,610.7 966.1,596.9 981.7,583.2 997.3,569.4 1013.0,555.7 1028.6,541.9" stroke="#7f2f8c"/>
<path d="M794.0,709.9 809.7,705.2 825.3,699.0 840.9,691.3 856.6,682.0 872.2,671.5 887.9,659.9 903.5,647.6 919.1,634.7 934.8,621.4 950.4,607.9 966.1,594.3 981.7,580.5 997.3,566.7 1013.0,552.9 1028.6,539.0" stroke="#77ad3f"/>
<path d="M199.0,862.0 215.3,862.0 231.0,862.0 246.6,862.0 262.3,862.0 277.9,862.0 293.5,862.0 309.2,862.0 324.8,862.0 340.5,862.0 356.1,862.0 371.7,862.0 387.4,862.0 403.0,862.0 418.7,862.0 434.3,862.0 449.9,862.0 465.6,861.9 481.2,861.9 496.9,861.8 512.5,861.7 528.1,861.6 543.8,861.4 559.4,861.0 575.1,860.4 590.7,859.5 606.3,858.1 622.0,856.1 637.6,853.1 653.3,848.9 668.9,843.2 684.5,836.0 700.2,827.2 715.8,817.0 731.5,805.7 747.1,793.5 762.7,780.7 778.4,767.5 794.0,754.1 809.7,740.5 825.3,726.7 840.9,713.1 856.6,699.4 872.2,685.7 887.9,672.0 903.5,658.2 919.1,644.5 934.8,630.7 950.4,617.0 966.1,603.2 981.7,589.4 997.3,575.7 1013.0,561.9 1028.6,548.2" stroke="#4dbcec"/>
<path d="M199.0,868.0 215.3,868.0 231.0,868.0 246.6,868.0 262.3,868.0 277.9,868.0 293.5,868.0 309.2,868.0 324.8,868.0 340.5,868.0 356.1,868.0 371.7,868.0 387.4,868.0 403.0,868.0 418.7,868.0 434.3,868.0 449.9,868.0 465.6,867.9 481.2,867.9 496.9,867.8 512.5,867.7 528.1,867.5 543.8,867.3 559.4,866.8 575.1,866.2 590.7,865.2 606.3,863.6 622.0,861.3 637.6,858.0 653.3,853.4 668.9,847.3 684.5,839.7 700.2,830.4 715.8,819.9 731.5,808.3 747.1,796.0 762.7,783.1 778.4,769.8 794.0,756.3 809.7,742.6 825.3,728.8 840.9,715.2 856.6,701.5 872.2,687.8 887.9,674.1 903.5,660.3 919.1,646.6 934.8,632.8 950.4,619.0 966.1,605.3 981.7,591.5 997.3,577.8 1013.0,564.0 1028.6,550.2" stroke="#0a72ba"/>
<path d="M199.0,882.0 215.3,882.0 231.0,882.0 246.6,882.0 262.3,882.0 277.9,882.0 293.5,882.0 309.2,882.0 324.8,882.0 340.5,882.0 356.1,882.0 371.7,882.0 387.4,882.0 403.0,882.0 418.7,882.0 434.3,882.0 449.9,881.9 465.6,881.9 481.2,881.8 496.9,881.7 512.5,881.5 528.1,881.3 543.8,880.8 559.4,880.2 575.1,879.2 590.7,877.6 606.3,875.3 622.0,872.0 637.6,867.4 653.3,861.3 668.9,853.6 684.5,844.4 700.2,833.9 715.8,822.3 731.5,809.9 747.1,797.0 762.7,783.8 778.4,770.2 794.0,756.6 809.7,742.8 825.3,729.0 840.9,715.6 856.6,702.1 872.2,688.7 887.9,675.2 903.5,661.8 919.1,648.3 934.8,634.8 950.4,621.4 966.1,607.9 981.7,594.4 997.3,581.0 1013.0,567.5 1028.6,554.0" stroke="#a11a2e"/>
<path d="M199.0,905.0 215.3,905.0 231.0,905.0 246.6,905.0 262.3,905.0 277.9,905.0 293.5,905.0 309.2,905.0 324.8,905.0 340.5,905.0 356.1,905.0 371.7,905.0 387.4,905.0 403.0,905.0 418.7,904.9 434.3,904.9 449.9,904.9 465.6,904.8 481.2,904.6 496.9,904.4 512.5,904.1 528.1,903.5 543.8,902.7 559.4,901.5 575.1,899.6 590.7,896.8 606.3,892.9 622.0,887.5 637.6,880.6 653.3,872.1 668.9,862.2 684.5,851.1 700.2,839.1 715.8,826.4 731.5,813.3 747.1,799.9 762.7,786.3 778.4,772.6 794.0,758.8 809.7,744.9 825.3,731.0 840.9,717.3 856.6,703.6 872.2,689.9 887.9,676.2 903.5,662.5 919.1,648.7 934.8,635.0 950.4,621.3 966.1,607.6 981.7,593.8 997.3,580.1 1013.0,566.4 1028.6,552.7" stroke="#eeb21c"/>
<path d="M199.0,992.0 215.3,992.0 231.0,992.0 246.6,992.0 262.3,992.0 277.9,992.0 293.5,992.0 309.2,992.0 324.8,991.9 340.5,991.9 356.1,991.9 371.7,991.8 387.4,991.6 403.0,991.4 418.7,991.1 434.3,990.6 449.9,989.8 465.6,988.7 481.2,986.9 496.9,984.2 512.5,980.4 528.1,975.3 543.8,968.6 559.4,960.3 575.1,950.5 590.7,939.6 606.3,927.7 622.0,915.1 637.6,902.0 653.3,888.6 668.9,875.0 684.5,861.3 700.2,847.5 715.8,833.7 731.5,819.8 747.1,805.8 762.7,791.9 778.4,778.0 794.0,764.0 809.7,750.1 825.3,736.1 840.9,722.2 856.6,708.3 872.2,694.4 887.9,680.5 903.5,666.6 919.1,652.7 934.8,638.8 950.4,624.9 966.1,611.0 981.7,597.1 997.3,583.2 1013.0,569.3 1028.6,555.4" stroke="#77ad3f"/>
<path d="M199.0,706.5 215.3,706.5 231.0,706.5 246.6,706.5 262.3,706.5 277.9,706.5 293.5,706.5 309.2,706.5 324.8,706.5 340.5,706.5 356.1,706.5 371.7,706.5 387.4,706.5 403.0,706.5 418.7,706.5 434.3,706.5 449.9,706.5 465.6,706.5 481.2,706.5 496.9,706.5 512.5,706.5 528.1,706.5 543.8,706.5 559.4,706.5 575.1,706.5 590.7,706.5 606.3,706.5 622.0,706.5 637.6,706.5 653.3,706.4 668.9,706.4 684.5,706.3 700.2,706.2 715.8,706.0 731.5,705.7 747.1,705.3 762.7,704.6 778.4,703.6 794.0,702.0 809.7,699.6 825.3,696.2 840.9,691.6 856.6,685.5 872.2,677.9 887.9,668.8 903.5,658.4 919.1,647.0 934.8,634.8 950.4,622.1 966.1,609.1 981.7,595.8 997.3,582.3 1013.0,568.8 1028.6,555.2" stroke="#4dbcec"/>
</g>
<g>
<path d="M1013.0,529.6 1028.6,515.4 1044.3,501.2 1059.9,487.1 1075.5,472.9 1091.2,458.7 1106.8,444.6 1122.5,430.4 1138.1,416.2 1153.7,402.6 1169.4,389.0 1185.0,375.4 1200.7,361.8 1216.3,348.2 1231.9,334.6 1247.6,321.0 1263.2,307.4 1278.9,293.8 1294.5,280.2 1310.1,266.6 1325.8,253.1 1341.4,239.8 1357.1,226.7 1372.7,214.4 1388.3,203.6 1404.0,195.2 1419.6,189.8 1435.3,186.9 1450.9,185.5 1466.5,184.9 1482.2,184.7 1497.8,184.6 1513.5,184.5 1529.1,184.5 1544.7,184.5 1560.4,184.5" stroke="#dc5626"/>
<path d="M1011.1,541.7 1028.6,525.9 1044.3,511.8 1059.9,497.7 1075.5,483.6 1091.2,469.5 1106.8,455.4 1122.5,441.2 1138.1,427.1 1153.7,413.0 1169.4,398.9 1185.0,384.7 1200.7,370.6 1216.3,356.4 1231.9,342.3 1247.6,328.2 1263.2,314.0 1278.9,299.9 1294.5,285.8 1310.1,271.7 1325.8,257.6 1341.4,243.6 1357.1,229.9 1372.7,216.7 1388.3,204.8 1404.0,195.2 1419.6,188.7 1435.3,185.1 1450.9,183.4 1466.5,182.7 1482.2,182.4 1497.8,182.3 1513.5,182.2 1529.1,182.2 1544.7,182.2 1560.4,182.2" stroke="#eeb21c"/>
<path d="M1009.2,546.1 1028.6,528.6 1044.3,514.5 1059.9,500.4 1075.5,486.3 1091.2,472.2 1106.8,458.1 1122.5,444.0 1138.1,429.9 1153.7,416.1 1169.4,402.3 1185.0,388.4 1200.7,374.6 1216.3,360.8 1231.9,347.0 1247.6,333.1 1263.2,319.3 1278.9,305.5 1294.5,291.7 1310.1,277.8 1325.8,264.0 1341.4,250.3 1357.1,236.7 1372.7,223.3 1388.3,210.6 1404.0,199.2 1419.6,190.1 1435.3,184.0 1450.9,180.7 1466.5,179.2 1482.2,178.5 1497.8,178.2 1513.5,178.1 1529.1,178.0 1544.7,178.0 1560.4,178.0" stroke="#77ad3f"/>
<path d="M1007.3,553.6 1028.6,534.4 1044.3,520.4 1059.9,506.3 1075.5,492.3 1091.2,478.2 1106.8,464.1 1122.5,450.1 1138.1,436.0 1153.7,422.1 1169.4,408.3 1185.0,394.4 1200.7,380.6 1216.3,366.7 1231.9,352.9 1247.6,339.0 1263.2,325.2 1278.9,311.3 1294.5,297.5 1310.1,283.6 1325.8,269.8 1341.4,256.0 1357.1,242.4 1372.7,229.0 1388.3,216.3 1404.0,205.0 1419.6,196.1 1435.3,190.2 1450.9,187.1 1466.5,185.6 1482.2,184.9 1497.8,184.7 1513.5,184.6 1529.1,184.5 1544.7,184.5 1560.4,184.5" stroke="#dc5626"/>
<path d="M1005.5,559.2 1028.6,538.4 1044.3,524.4 1059.9,510.3 1075.5,496.3 1091.2,482.2 1106.8,468.2 1122.5,454.2 1138.1,440.1 1153.7,426.2 1169.4,412.4 1185.0,398.5 1200.7,384.6 1216.3,370.8 1231.9,356.9 1247.6,343.0 1263.2,329.1 1278.9,315.3 1294.5,301.4 1310.1,287.5 1325.8,273.7 1341.4,259.8 1357.1,246.1 1372.7,232.5 1388.3,219.3 1404.0,207.1 1419.6,196.6 1435.3,188.9 1450.9,184.2 1466.5,181.8 1482.2,180.8 1497.8,180.3 1513.5,180.1 1529.1,180.0 1544.7,180.0 1560.4,180.0" stroke="#7f2f8c"/>
<path d="M1003.6,585.7 1028.6,563.4 1044.3,549.5 1059.9,535.6 1075.5,521.7 1091.2,507.8 1106.8,493.9 1122.5,480.0 1138.1,466.1 1153.7,452.1 1169.4,438.1 1185.0,424.1 1200.7,410.1 1216.3,396.1 1231.9,382.2 1247.6,368.2 1263.2,354.2 1278.9,340.2 1294.5,326.2 1310.1,312.2 1325.8,298.2 1341.4,284.3 1357.1,270.3 1372.7,256.4 1388.3,242.7 1404.0,229.2 1419.6,216.6 1435.3,205.5 1450.9,197.1 1466.5,191.7 1482.2,189.0 1497.8,187.7 1513.5,187.2 1529.1,186.9 1544.7,186.9 1560.4,186.8" stroke="#dc5626"/>
<path d="M1001.7,600.0 1028.6,576.2 1044.3,562.4 1059.9,548.5 1075.5,534.7 1091.2,520.9 1106.8,507.0 1122.5,493.2 1138.1,479.3 1153.7,465.3 1169.4,451.2 1185.0,437.2 1200.7,423.2 1216.3,409.1 1231.9,395.1 1247.6,381.0 1263.2,367.0 1278.9,352.9 1294.5,338.9 1310.1,324.8 1325.8,310.8 1341.4,296.8 1357.1,282.7 1372.7,268.7 1388.3,254.8 1404.0,241.0 1419.6,227.6 1435.3,215.0 1450.9,204.2 1466.5,196.1 1482.2,191.2 1497.8,188.7 1513.5,187.6 1529.1,187.1 1544.7,186.9 1560.4,186.8" stroke="#a11a2e"/>
<path d="M999.8,615.7 1028.6,590.3 1044.3,576.6 1059.9,562.8 1075.5,549.0 1091.2,535.3 1106.8,521.5 1122.5,507.7 1138.1,494.0 1153.7,479.9 1169.4,465.8 1185.0,451.7 1200.7,437.5 1216.3,423.4 1231.9,409.3 1247.6,395.2 1263.2,381.1 1278.9,367.0 1294.5,352.9 1310.1,338.8 1325.8,324.7 1341.4,310.6 1357.1,296.5 1372.7,282.4 1388.3,268.3 1404.0,254.3 1419.6,240.4 1435.3,226.9 1450.9,214.2 1466.5,203.1 1482.2,194.8 1497.8,189.6 1513.5,187.0 1529.1,185.8 1544.7,185.3 1560.4,185.1" stroke="#0a72ba"/>
<path d="M998.0,625.8 1028.6,598.9 1044.3,585.2 1059.9,571.4 1075.5,557.7 1091.2,544.0 1106.8,530.3 1122.5,516.6 1138.1,502.8 1153.7,488.7 1169.4,474.6 1185.0,460.4 1200.7,446.3 1216.3,432.1 1231.9,418.0 1247.6,403.8 1263.2,389.7 1278.9,375.5 1294.5,361.4 1310.1,347.2 1325.8,333.1 1341.4,318.9 1357.1,304.8 1372.7,290.6 1388.3,276.5 1404.0,262.4 1419.6,248.4 1435.3,234.6 1450.9,221.3 1466.5,209.1 1482.2,199.0 1497.8,191.9 1513.5,187.8 1529.1,185.9 1544.7,185.1 1560.4,184.7" stroke="#dc5626"/>
<path d="M996.1,611.3 1028.6,582.5 1044.3,568.7 1059.9,554.9 1075.5,541.1 1091.2,527.3 1106.8,513.5 1122.5,499.7 1138.1,485.9 1153.7,471.8 1169.4,457.7 1185.0,443.7 1200.7,429.6 1216.3,415.5 1231.9,401.4 1247.6,387.4 1263.2,373.3 1278.9,359.2 1294.5,345.2 1310.1,331.1 1325.8,317.0 1341.4,302.9 1357.1,288.9 1372.7,274.8 1388.3,260.8 1404.0,246.9 1419.6,233.1 1435.3,219.8 1450.9,207.6 1466.5,197.3 1482.2,190.0 1497.8,185.8 1513.5,183.7 1529.1,182.8 1544.7,182.4 1560.4,182.3" stroke="#eeb21c"/>
<path d="M994.2,611.3 1028.6,580.9 1044.3,567.1 1059.9,553.3 1075.5,539.5 1091.2,525.7 1106.8,511.8 1122.5,498.0 1138.1,484.2 1153.7,470.1 1169.4,456.1 1185.0,442.0 1200.7,428.0 1216.3,413.9 1231.9,399.8 1247.6,385.8 1263.2,371.7 1278.9,357.6 1294.5,343.6 1310.1,329.5 1325.8,315.4 1341.4,301.4 1357.1,287.3 1372.7,273.3 1388.3,259.2 1404.0,245.3 1419.6,231.6 1435.3,218.4 1450.9,206.3 1466.5,196.4 1482.2,189.4 1497.8,185.5 1513.5,183.6 1529.1,182.8 1544.7,182.4 1560.4,182.3" stroke="#eeb21c"/>
<path d="M992.3,627.8 1028.6,597.4 1044.3,584.0 1059.9,570.4 1075.5,556.8 1091.2,543.2 1106.8,529.5 1122.5,515.8 1138.1,502.1 1153.7,488.0 1169.4,473.8 1185.0,459.7 1200.7,445.6 1216.3,431.4 1231.9,417.3 1247.6,403.1 1263.2,389.0 1278.9,374.8 1294.5,360.7 1310.1,346.6 1325.8,332.4 1341.4,318.3 1357.1,304.1 1372.7,290.0 1388.3,275.9 1404.0,261.8 1419.6,247.7 1435.3,233.8 1450.9,220.3 1466.5,207.8 1482.2,197.0 1497.8,189.0 1513.5,184.2 1529.1,181.8 1544.7,180.7 1560.4,180.3" stroke="#7f2f8c"/>
<path d="M990.5,573.3 1028.6,539.1 1044.3,525.0 1059.9,511.0 1075.5,497.0 1091.2,482.9 1106.8,468.9 1122.5,454.9 1138.1,440.8 1153.7,426.9 1169.4,413.1 1185.0,399.2 1200.7,385.3 1216.3,371.4 1231.9,357.6 1247.6,343.7 1263.2,329.8 1278.9,315.9 1294.5,302.1 1310.1,288.2 1325.8,274.3 1341.4,260.5 1357.1,246.7 1372.7,233.1 1388.3,219.8 1404.0,207.3 1419.6,196.4 1435.3,188.1 1450.9,182.9 1466.5,180.1 1482.2,178.9 1497.8,178.4 1513.5,178.1 1529.1,178.1 1544.7,178.0 1560.4,178.0" stroke="#77ad3f"/>
<path d="M988.6,584.0 1028.6,548.2 1044.3,534.2 1059.9,520.2 1075.5,506.2 1091.2,492.2 1106.8,478.2 1122.5,464.2 1138.1,450.2 1153.7,436.3 1169.4,422.4 1185.0,408.5 1200.7,394.6 1216.3,380.6 1231.9,366.7 1247.6,352.8 1263.2,338.9 1278.9,325.0 1294.5,311.1 1310.1,297.1 1325.8,283.2 1341.4,269.3 1357.1,255.5 1372.7,241.7 1388.3,228.1 1404.0,214.9 1419.6,202.6 1435.3,192.3 1450.9,184.7 1466.5,180.2 1482.2,177.9 1497.8,176.9 1513.5,176.5 1529.1,176.3 1544.7,176.2 1560.4,176.2" stroke="#4dbcec"/>
<path d="M986.7,587.7 1028.6,550.2 1044.3,536.3 1059.9,522.3 1075.5,508.3 1091.2,494.3 1106.8,480.4 1122.5,466.4 1138.1,452.4 1153.7,438.5 1169.4,424.5 1185.0,410.6 1200.7,396.7 1216.3,382.8 1231.9,368.8 1247.6,354.9 1263.2,341.0 1278.9,327.1 1294.5,313.1 1310.1,299.2 1325.8,285.3 1341.4,271.4 1357.1,257.5 1372.7,243.7 1388.3,230.0 1404.0,216.7 1419.6,204.3 1435.3,193.6 1450.9,185.6 1466.5,180.7 1482.2,178.1 1497.8,177.0 1513.5,176.5 1529.1,176.3 1544.7,176.3 1560.4,176.2" stroke="#0a72ba"/>
<path d="M984.8,591.8 1028.6,552.7 1044.3,538.7 1059.9,524.7 1075.5,510.8 1091.2,496.8 1106.8,482.8 1122.5,468.9 1138.1,454.9 1153.7,441.0 1169.4,427.0 1185.0,413.1 1200.7,399.2 1216.3,385.2 1231.9,371.3 1247.6,357.3 1263.2,343.4 1278.9,329.5 1294.5,315.5 1310.1,301.6 1325.8,287.7 1341.4,273.7 1357.1,259.8 1372.7,246.0 1388.3,232.3 1404.0,218.9 1419.6,206.3 1435.3,195.2 1450.9,186.7 1466.5,181.3 1482.2,178.4 1497.8,177.1 1513.5,176.6 1529.1,176.4 1544.7,176.3 1560.4,176.2" stroke="#eeb21c"/>
<path d="M983.0,598.4 1028.6,557.6 1044.3,543.7 1059.9,529.8 1075.5,515.8 1091.2,501.9 1106.8,487.9 1122.5,474.0 1138.1,460.1 1153.7,446.1 1169.4,432.2 1185.0,418.2 1200.7,404.2 1216.3,390.3 1231.9,376.3 1247.6,362.3 1263.2,348.4 1278.9,334.4 1294.5,320.5 1310.1,306.5 1325.8,292.6 1341.4,278.6 1357.1,264.7 1372.7,250.8 1388.3,237.0 1404.0,223.4 1419.6,210.5 1435.3,198.7 1450.9,189.2 1466.5,182.8 1482.2,179.2 1497.8,177.4 1513.5,176.7 1529.1,176.4 1544.7,176.3 1560.4,176.2" stroke="#4dbcec"/>
<path d="M981.1,597.8 1028.6,555.4 1044.3,541.4 1059.9,527.5 1075.5,513.5 1091.2,499.6 1106.8,485.6 1122.5,471.7 1138.1,457.7 1153.7,443.7 1169.4,429.8 1185.0,415.8 1200.7,401.9 1216.3,387.9 1231.9,374.0 1247.6,360.0 1263.2,346.1 1278.9,332.2 1294.5,318.2 1310.1,304.3 1325.8,290.3 1341.4,276.4 1357.1,262.5 1372.7,248.6 1388.3,234.8 1404.0,221.3 1419.6,208.5 1435.3,197.1 1450.9,188.0 1466.5,182.0 1482.2,178.8 1497.8,177.3 1513.5,176.6 1529.1,176.4 1544.7,176.3 1560.4,176.2" stroke="#4dbcec"/>
</g>
<g>
<path d="M1544.7,186.0 1560.4,186.0 1576.0,186.0 1591.7,186.0 1607.3,186.0 1622.9,186.0 1638.6,186.0 1654.2,186.0 1669.9,186.0 1685.5,186.0 1701.1,186.0 1716.8,186.0 1732.4,188.0 1748.1,192.0 1763.7,206.0 1779.3,226.0 1795.0,240.0 1810.6,250.0 1826.3,259.5 1841.9,269.0 1857.5,278.5 1873.2,288.5 1888.8,299.0 1904.5,310.0 1921.6,322.1" stroke="#4dbcec"/>
<path d="M1544.7,185.0 1560.4,185.0 1576.0,185.0 1591.7,185.0 1607.3,185.0 1622.9,185.0 1638.6,184.5 1654.2,183.5 1669.9,182.0 1685.5,180.0 1701.1,178.5 1716.8,178.0 1732.4,178.0 1748.1,180.0 1763.7,190.0 1779.3,197.0 1795.0,199.0 1810.6,199.5 1826.3,200.0 1841.9,200.3 1857.5,200.7 1873.2,201.3 1888.8,202.0 1904.5,202.8 1921.6,203.9" stroke="#dc5626"/>
<path d="M1544.7,181.0 1560.4,181.0 1576.0,181.0 1591.7,181.0 1607.3,181.0 1622.9,181.0 1638.6,180.5 1654.2,180.0 1669.9,179.0 1685.5,178.0 1701.1,177.0 1716.8,176.5 1732.4,177.0 1748.1,179.0 1763.7,186.0 1779.3,190.0 1795.0,190.5 1810.6,190.5 1826.3,190.5 1841.9,190.5 1857.5,190.8 1873.2,191.5 1888.8,192.5 1904.5,194.0 1921.6,195.6" stroke="#77ad3f"/>
<path d="M1544.7,182.0 1560.4,182.0 1576.0,182.0 1591.7,182.0 1607.3,182.0 1622.9,182.5 1638.6,183.0 1654.2,184.0 1669.9,185.0 1685.5,186.5 1701.1,188.0 1716.8,192.0 1732.4,210.0 1748.1,235.0 1763.7,255.0 1779.3,270.0 1795.0,285.0 1810.6,297.0 1826.3,303.5 1841.9,309.5 1857.5,315.5 1873.2,321.5 1888.8,327.5 1904.5,333.5 1921.6,339.5" stroke="#eeb21c"/>
<path d="M1544.7,185.0 1560.4,185.0 1576.0,185.0 1591.7,185.0 1607.3,185.0 1622.9,185.5 1638.6,186.5 1654.2,188.0 1669.9,190.0 1685.5,192.5 1701.1,195.0 1716.8,197.5 1732.4,200.0 1748.1,202.5 1763.7,207.0 1779.3,211.0 1795.0,213.5 1810.6,214.5 1826.3,215.5 1841.9,216.5 1857.5,217.7 1873.2,219.0 1888.8,220.6 1904.5,222.4 1921.6,224.6" stroke="#0a72ba"/>
<path d="M1544.7,186.8 1560.4,186.8 1576.0,186.8 1591.7,186.8 1607.3,186.8 1622.9,186.8 1638.6,186.3 1654.2,185.3 1669.9,184.0 1685.5,181.0 1701.1,176.0 1716.8,169.5 1732.4,163.0 1748.1,158.0 1763.7,197.0 1779.3,223.0 1795.0,236.0 1810.6,246.0 1826.3,255.5 1841.9,265.0 1857.5,274.5 1873.2,284.5 1888.8,295.0 1904.5,306.0 1921.6,318.1" stroke="#a11a2e"/>
<path d="M1544.7,186.8 1560.4,186.8 1576.0,186.8 1591.7,186.8 1607.3,186.8 1622.9,186.8 1638.6,186.3 1654.2,185.0 1669.9,183.0 1685.5,180.0 1701.1,174.5 1716.8,167.5 1732.4,161.0 1748.1,156.0 1763.7,194.0 1779.3,220.0 1795.0,226.5 1810.6,234.0 1826.3,241.5 1841.9,249.0 1857.5,257.5 1873.2,267.5 1888.8,278.5 1904.5,290.5 1921.6,303.7" stroke="#a11a2e"/>
<path d="M1544.7,186.8 1560.4,186.8 1576.0,186.8 1591.7,186.8 1607.3,186.8 1622.9,186.8 1638.6,186.3 1654.2,185.0 1669.9,183.0 1685.5,179.5 1701.1,173.5 1716.8,166.0 1732.4,159.0 1748.1,153.5 1763.7,192.0 1779.3,217.0 1795.0,221.5 1810.6,229.0 1826.3,236.5 1841.9,244.0 1857.5,252.5 1873.2,262.5 1888.8,273.5 1904.5,285.5 1921.6,298.7" stroke="#a11a2e"/>
<path d="M1544.7,183.0 1560.4,183.0 1576.0,183.0 1591.7,183.0 1607.3,183.0 1622.9,183.0 1638.6,183.0 1654.2,183.0 1669.9,182.5 1685.5,181.5 1701.1,180.0 1716.8,177.0 1732.4,173.0 1748.1,169.0 1763.7,198.0 1779.3,220.0 1795.0,229.0 1810.6,238.0 1826.3,247.0 1841.9,256.0 1857.5,265.5 1873.2,276.0 1888.8,287.5 1904.5,299.0 1921.6,311.1" stroke="#eeb21c"/>
<path d="M1544.7,181.0 1560.4,181.0 1576.0,181.0 1591.7,181.0 1607.3,181.0 1622.9,180.5 1638.6,179.5 1654.2,178.0 1669.9,176.0 1685.5,173.5 1701.1,170.0 1716.8,166.0 1732.4,162.5 1748.1,159.5 1763.7,196.0 1779.3,221.0 1795.0,233.0 1810.6,243.0 1826.3,252.5 1841.9,262.0 1857.5,271.5 1873.2,281.5 1888.8,292.0 1904.5,303.0 1921.6,315.1" stroke="#7f2f8c"/>
<path d="M1544.7,184.0 1560.4,184.0 1576.0,184.0 1591.7,184.0 1607.3,184.0 1622.9,184.0 1638.6,184.0 1654.2,184.5 1669.9,185.0 1685.5,186.0 1701.1,187.5 1716.8,189.0 1732.4,191.0 1748.1,193.0 1763.7,210.0 1779.3,219.0 1795.0,224.0 1810.6,231.5 1826.3,239.0 1841.9,246.5 1857.5,255.0 1873.2,265.0 1888.8,276.0 1904.5,288.0 1921.6,301.2" stroke="#0a72ba"/>
<path d="M1544.7,185.0 1560.4,185.0 1576.0,185.0 1591.7,185.0 1607.3,185.0 1622.9,185.5 1638.6,186.5 1654.2,188.0 1669.9,190.2 1685.5,193.0 1701.1,196.0 1716.8,199.5 1732.4,203.0 1748.1,207.0 1763.7,210.5 1779.3,214.0 1795.0,216.0 1810.6,216.6 1826.3,217.2 1841.9,217.8 1857.5,218.5 1873.2,219.5 1888.8,220.5 1904.5,221.7 1921.6,223.0" stroke="#dc5626"/>
<path d="M1544.7,184.0 1560.4,184.0 1576.0,184.0 1591.7,184.0 1607.3,184.0 1622.9,184.5 1638.6,185.5 1654.2,187.0 1669.9,189.0 1685.5,191.5 1701.1,194.0 1716.8,197.0 1732.4,200.5 1748.1,204.0 1763.7,208.5 1779.3,212.0 1795.0,214.3 1810.6,215.0 1826.3,215.7 1841.9,216.3 1857.5,217.0 1873.2,218.0 1888.8,219.0 1904.5,220.2 1921.6,221.5" stroke="#eeb21c"/>
<path d="M1544.7,180.0 1560.4,180.0 1576.0,180.0 1591.7,180.0 1607.3,180.0 1622.9,180.5 1638.6,181.0 1654.2,182.0 1669.9,183.0 1685.5,184.5 1701.1,186.0 1716.8,190.0 1732.4,207.0 1748.1,232.0 1763.7,252.0 1779.3,266.0 1795.0,280.0 1810.6,296.0 1826.3,302.2 1841.9,308.3 1857.5,314.4 1873.2,320.5 1888.8,326.6 1904.5,332.7 1921.6,339.4" stroke="#7f2f8c"/>
<path d="M1544.7,184.5 1560.4,184.5 1576.0,184.5 1591.7,184.5 1607.3,184.5 1622.9,184.5 1638.6,184.0 1654.2,183.0 1669.9,181.0 1685.5,176.5 1701.1,168.0 1716.8,158.5 1732.4,172.0 1748.1,186.0 1763.7,200.0 1779.3,209.0 1795.0,211.0 1810.6,211.5 1826.3,212.0 1841.9,212.6 1857.5,213.4 1873.2,214.5 1888.8,216.0 1904.5,217.6 1921.6,219.6" stroke="#dc5626"/>
<path d="M1544.7,182.2 1560.4,182.2 1576.0,182.2 1591.7,182.2 1607.3,182.2 1622.9,182.2 1638.6,182.0 1654.2,181.5 1669.9,180.5 1685.5,178.5 1701.1,176.0 1716.8,173.0 1732.4,170.0 1748.1,168.0 1763.7,199.0 1779.3,206.5 1795.0,208.0 1810.6,208.3 1826.3,208.5 1841.9,208.7 1857.5,209.0 1873.2,209.3 1888.8,209.8 1904.5,210.3 1921.6,210.8" stroke="#eeb21c"/>
<path d="M1544.7,174.7 1560.4,174.7 1576.0,174.7 1591.7,174.7 1607.3,174.7 1622.9,173.2 1638.6,170.8 1654.2,168.2 1669.9,166.3 1685.5,166.0 1701.1,166.0 1716.8,166.3 1732.4,164.5 1748.1,162.5 1763.7,186.0 1779.3,193.5 1795.0,194.7 1810.6,194.7 1826.3,194.7 1841.9,194.8 1857.5,195.0 1873.2,195.5 1888.8,196.2 1904.5,197.0 1921.6,197.9" stroke="#4dbcec"/>
<path d="M1544.7,180.0 1560.4,180.0 1576.0,180.0 1591.7,180.0 1607.3,180.0 1622.9,179.5 1638.6,179.0 1654.2,178.0 1669.9,177.0 1685.5,174.5 1701.1,171.0 1716.8,167.5 1732.4,164.0 1748.1,161.0 1763.7,197.0 1779.3,208.0 1795.0,210.0 1810.6,210.5 1826.3,211.0 1841.9,211.6 1857.5,212.4 1873.2,213.5 1888.8,215.0 1904.5,216.6 1921.6,218.6" stroke="#7f2f8c"/>
<path d="M1544.7,177.5 1560.4,177.5 1576.0,177.5 1591.7,177.5 1607.3,177.5 1622.9,176.2 1638.6,173.8 1654.2,171.2 1669.9,169.5 1685.5,169.3 1701.1,169.5 1716.8,170.5 1732.4,195.5 1748.1,221.0 1763.7,243.5 1779.3,256.0 1795.0,266.0 1810.6,276.0 1826.3,285.0 1841.9,293.0 1857.5,300.5 1873.2,307.5 1888.8,313.5 1904.5,318.5 1921.6,323.4" stroke="#77ad3f"/>
<path d="M1544.7,174.7 1560.4,174.7 1576.0,174.7 1591.7,174.7 1607.3,174.7 1622.9,173.2 1638.6,170.8 1654.2,168.2 1669.9,166.3 1685.5,166.0 1701.1,166.0 1716.8,166.3 1732.4,192.0 1748.1,217.8 1763.7,242.0 1779.3,256.0 1795.0,268.0 1810.6,279.5 1826.3,289.0 1841.9,298.0 1857.5,306.5 1873.2,313.5 1888.8,320.3 1904.5,327.0 1921.6,333.6" stroke="#4dbcec"/>
</g>
</g>
<text font-family="Liberation Serif, serif" fill="#4c4c4e" stroke="#4c4c4e" stroke-width="1.15" stroke-linejoin="round" font-size="46.0" text-anchor="end" transform="translate(184.0 53.60) scale(0.93 1)">20</text>
<text font-family="Liberation Serif, serif" fill="#4c4c4e" stroke="#4c4c4e" stroke-width="1.15" stroke-linejoin="round" font-size="46.0" text-anchor="end" transform="translate(184.0 193.16) scale(0.93 1)">0</text>
<text font-family="Liberation Serif, serif" fill="#4c4c4e" stroke="#4c4c4e" stroke-width="1.15" stroke-linejoin="round" font-size="46.0" text-anchor="end" transform="translate(184.0 332.73) scale(0.93 1)">20</text>
<text font-family="Liberation Serif, serif" fill="#4c4c4e" font-size="46.0" text-anchor="end" transform="translate(140.22 332.52) scale(1.31 0.78)">−</text>
<text font-family="Liberation Serif, serif" fill="#4c4c4e" stroke="#4c4c4e" stroke-width="1.15" stroke-linejoin="round" font-size="46.0" text-anchor="end" transform="translate(184.0 472.29) scale(0.93 1)">40</text>
<text font-family="Liberation Serif, serif" fill="#4c4c4e" font-size="46.0" text-anchor="end" transform="translate(140.22 472.09) scale(1.31 0.78)">−</text>
<text font-family="Liberation Serif, serif" fill="#4c4c4e" stroke="#4c4c4e" stroke-width="1.15" stroke-linejoin="round" font-size="46.0" text-anchor="end" transform="translate(184.0 611.85) scale(0.93 1)">60</text>
<text font-family="Liberation Serif, serif" fill="#4c4c4e" font-size="46.0" text-anchor="end" transform="translate(140.22 611.65) scale(1.31 0.78)">−</text>
<text font-family="Liberation Serif, serif" fill="#4c4c4e" stroke="#4c4c4e" stroke-width="1.15" stroke-linejoin="round" font-size="46.0" text-anchor="end" transform="translate(184.0 751.41) scale(0.93 1)">80</text>
<text font-family="Liberation Serif, serif" fill="#4c4c4e" font-size="46.0" text-anchor="end" transform="translate(140.22 751.21) scale(1.31 0.78)">−</text>
<text font-family="Liberation Serif, serif" fill="#4c4c4e" stroke="#4c4c4e" stroke-width="1.15" stroke-linejoin="round" font-size="46.0" text-anchor="end" transform="translate(184.0 890.98) scale(0.93 1)">100</text>
<text font-family="Liberation Serif, serif" fill="#4c4c4e" font-size="46.0" text-anchor="end" transform="translate(118.83 890.77) scale(1.31 0.78)">−</text>
<text font-family="Liberation Serif, serif" fill="#4c4c4e" stroke="#4c4c4e" stroke-width="1.15" stroke-linejoin="round" font-size="46.0" text-anchor="end" transform="translate(184.0 1030.54) scale(0.93 1)">120</text>
<text font-family="Liberation Serif, serif" fill="#4c4c4e" font-size="46.0" text-anchor="end" transform="translate(118.83 1030.34) scale(1.31 0.78)">−</text>
<text font-family="Liberation Serif, serif" fill="#4c4c4e" stroke="#4c4c4e" stroke-width="1.15" stroke-linejoin="round" font-size="46.0" text-anchor="end" transform="translate(184.0 1170.10) scale(0.93 1)">140</text>
<text font-family="Liberation Serif, serif" fill="#4c4c4e" font-size="46.0" text-anchor="end" transform="translate(118.83 1169.90) scale(1.31 0.78)">−</text>
<text font-family="Liberation Serif, serif" fill="#4c4c4e" stroke="#4c4c4e" stroke-width="1.15" stroke-linejoin="round" font-size="46.0" transform="translate(314.77 1212.2) scale(0.93 1)">10</text>
<text font-family="Liberation Serif, serif" fill="#4c4c4e" font-size="32.0" transform="translate(356.45 1197.6) scale(1.32 0.9)">−</text>
<text font-family="Liberation Serif, serif" fill="#4c4c4e" stroke="#4c4c4e" stroke-width="1.15" stroke-linejoin="round" font-size="32.0" transform="translate(381.55 1196.2) scale(0.93 1)">2</text>
<text font-family="Liberation Serif, serif" fill="#4c4c4e" stroke="#4c4c4e" stroke-width="1.15" stroke-linejoin="round" font-size="46.0" transform="translate(638.82 1212.2) scale(0.93 1)">10</text>
<text font-family="Liberation Serif, serif" fill="#4c4c4e" stroke="#4c4c4e" stroke-width="1.15" stroke-linejoin="round" font-size="32.0" transform="translate(683.10 1196.2) scale(0.93 1)">0</text>
<text font-family="Liberation Serif, serif" fill="#4c4c4e" stroke="#4c4c4e" stroke-width="1.15" stroke-linejoin="round" font-size="46.0" transform="translate(951.62 1212.2) scale(0.93 1)">10</text>
<text font-family="Liberation Serif, serif" fill="#4c4c4e" stroke="#4c4c4e" stroke-width="1.15" stroke-linejoin="round" font-size="32.0" transform="translate(995.90 1196.2) scale(0.93 1)">2</text>
<text font-family="Liberation Serif, serif" fill="#4c4c4e" stroke="#4c4c4e" stroke-width="1.15" stroke-linejoin="round" font-size="46.0" transform="translate(1264.42 1212.2) scale(0.93 1)">10</text>
<text font-family="Liberation Serif, serif" fill="#4c4c4e" stroke="#4c4c4e" stroke-width="1.15" stroke-linejoin="round" font-size="32.0" transform="translate(1308.70 1196.2) scale(0.93 1)">4</text>
<text font-family="Liberation Serif, serif" fill="#4c4c4e" stroke="#4c4c4e" stroke-width="1.15" stroke-linejoin="round" font-size="46.0" transform="translate(1577.22 1212.2) scale(0.93 1)">10</text>
<text font-family="Liberation Serif, serif" fill="#4c4c4e" stroke="#4c4c4e" stroke-width="1.15" stroke-linejoin="round" font-size="32.0" transform="translate(1621.50 1196.2) scale(0.93 1)">6</text>
<text font-family="Liberation Serif, serif" fill="#4c4c4e" stroke="#4c4c4e" stroke-width="1.15" stroke-linejoin="round" font-size="46.0" transform="translate(1890.02 1212.2) scale(0.93 1)">10</text>
<text font-family="Liberation Serif, serif" fill="#4c4c4e" stroke="#4c4c4e" stroke-width="1.15" stroke-linejoin="round" font-size="32.0" transform="translate(1934.30 1196.2) scale(0.93 1)">8</text>
<text font-family="Liberation Sans, sans-serif" font-weight="bold" fill="#4c4c4e" font-size="52.6" text-anchor="middle" transform="translate(1025.2 1279) scale(0.947 1)">Frequency (Hz)</text>
<text font-family="Liberation Sans, sans-serif" font-weight="bold" fill="#4c4c4e" font-size="52.6" text-anchor="middle" transform="translate(59.2 617) rotate(-90) scale(0.947 1)">PSRR (dB)</text>
</svg>
</body></html>
